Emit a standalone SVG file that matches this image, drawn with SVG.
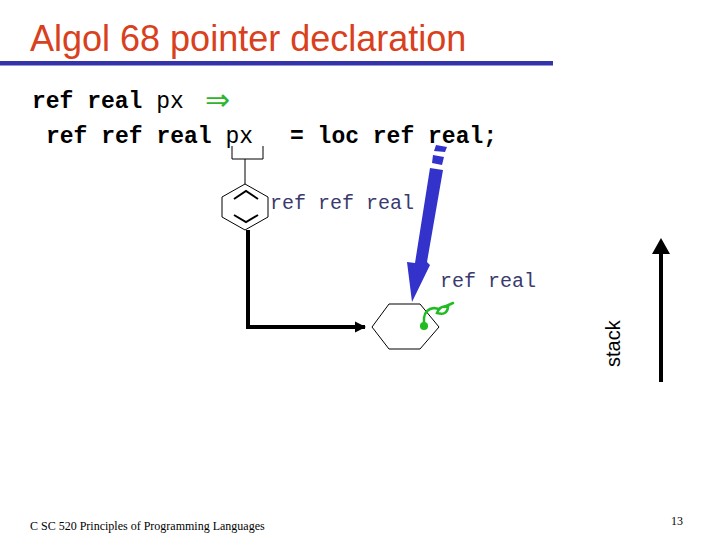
<svg xmlns="http://www.w3.org/2000/svg" width="720" height="540" viewBox="0 0 720 540">
<defs>
<style>
.code{font-family:"Liberation Mono","Courier New",monospace;font-size:23px;fill:#000}
.b{font-weight:bold}
.ann{font-family:"Liberation Mono","Courier New",monospace;font-size:20px;fill:#3a3a6e}
.hex{fill:#fff;stroke:#000;stroke-width:1}
.foot{font-family:"Liberation Serif","Times New Roman",serif;font-size:12px;fill:#000}
</style>
<marker id="ah" viewBox="0 0 10 10" refX="9" refY="5" markerWidth="2.8" markerHeight="2.8" orient="auto" markerUnits="strokeWidth">
<path d="M0,0 L10,5 L0,10 z" fill="#000"/>
</marker>
</defs>
<rect width="720" height="540" fill="#fff"/>

<g id="title">
<text x="30" y="51" font-family="Liberation Sans,Arial,sans-serif" font-size="36" fill="#d9401c">Algol 68 pointer declaration</text>
<rect x="0" y="61" width="553" height="4.5" fill="#3333aa"/>
</g>

<g id="code">
<text class="code" x="32" y="108" xml:space="preserve"><tspan class="b">ref real </tspan><tspan>px</tspan></text>
<text x="205" y="110" font-family="DejaVu Sans,sans-serif" font-size="30" fill="#2db52d">⇒</text>
<text class="code" x="46" y="143" xml:space="preserve"><tspan class="b">ref ref real </tspan><tspan>px</tspan></text>
<text class="code b" x="290" y="143">= loc ref real;</text>
</g>

<g id="px-box">
<polyline points="232,146 232,159 263,159 263,146" fill="none" stroke="#000" stroke-width="1"/>
<line x1="245" y1="159" x2="245" y2="184" stroke="#000" stroke-width="1"/>
</g>

<g id="node-refrefreal">
<polygon class="hex" points="245,184 268,197 268,217 245,230 222,217 222,197"/>
<polyline points="234,199 246,191 258,199" fill="none" stroke="#000" stroke-width="2"/>
<polyline points="234,215 246,222 258,215" fill="none" stroke="#000" stroke-width="2"/>
<text class="ann" x="270" y="209">ref ref real</text>
</g>

<g id="node-refreal">
<polygon class="hex" points="372,327 389,304 420,304 439,327 420,349 389,349"/>
<text class="ann" x="440" y="287">ref real</text>
<g id="plug" fill="none" stroke="#22bb22" stroke-width="2.5" stroke-linecap="round">
<path d="M424,326 L424,318 Q425,309 434,308 L439,309"/>
<path d="M437,313 Q440,305 448,307 Q447,316 437,313 z"/>
<path d="M444,307 L453,303"/>
<circle cx="424" cy="326" r="2.8" fill="#22bb22"/>
</g>
</g>

<g id="connectors">
<polyline points="248,230 248,327 365,327" fill="none" stroke="#000" stroke-width="4" marker-end="url(#ah)"/>
<g id="blue-arrow" fill="#3333cc">
<polygon points="436,145 447,147 445,152 434,151"/>
<polygon points="433,155 444,157 442,165 432,163"/>
<polygon points="430,168 443,170 427,262 430,265 412,302 407,262 415,263"/>
</g>
<line x1="661" y1="382" x2="661" y2="252" stroke="#000" stroke-width="4"/>
<polygon points="661,238 670,254 652,254" fill="#000"/>
</g>

<g id="stack-label">
<text transform="translate(620,367) rotate(-90)" font-family="Liberation Sans,Arial,sans-serif" font-size="20" fill="#000">stack</text>
</g>

<g id="footer">
<text class="foot" x="30" y="530">C SC 520 Principles of Programming Languages</text>
<text class="foot" x="671" y="525">13</text>
</g>
</svg>
